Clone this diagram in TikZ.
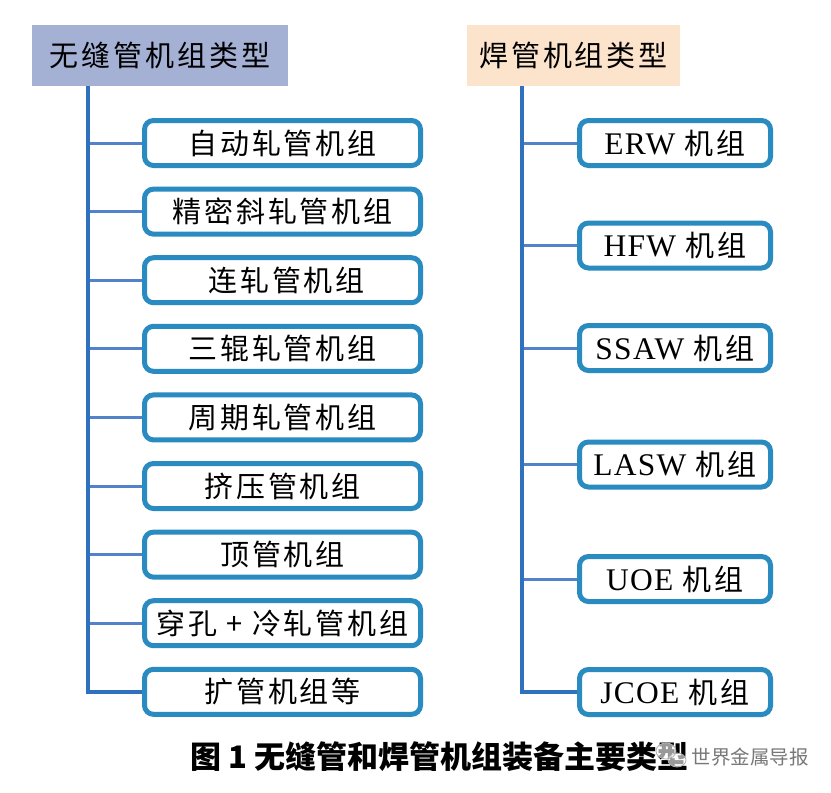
\documentclass[tikz,border=0pt]{standalone}
\usepackage{fontspec}
\setmainfont{Liberation Serif}
\newfontfamily\cjk[LetterSpace=10]{Noto Sans CJK SC}
\newfontfamily\capf{Noto Sans CJK SC}
\newfontfamily\latf[LetterSpace=4]{Liberation Serif}
\definecolor{hdrblue}{RGB}{164,177,213}
\definecolor{hdrpeach}{RGB}{252,228,204}
\definecolor{boxblue}{RGB}{42,139,192}
\definecolor{trunkblue}{RGB}{47,113,188}
\definecolor{branchblue}{RGB}{82,130,202}
\definecolor{wmgray}{RGB}{120,120,120}
\tikzset{
  hdr/.style={inner sep=0pt, minimum height=61pt, font=\cjk\fontsize{29}{32}\selectfont},
  itembox/.style={draw=boxblue, line width=5pt, rounded corners=9pt, fill=white,
    minimum height=45pt, inner sep=0pt, font=\cjk\fontsize{29}{32}\selectfont},
  leftbox/.style={itembox, minimum width=276pt},
  rightbox/.style={itembox, minimum width=191pt},
  trunk/.style={draw=trunkblue, line width=3.5pt},
  branch/.style={draw=branchblue, line width=3pt},
}
\newcommand{\lat}[1]{{\latf\fontsize{31.5}{33}\selectfont #1}}
\begin{document}
\begin{tikzpicture}[x=1pt,y=-1pt]
\useasboundingbox[fill=white] (0,0) rectangle (831,793);
% headers
\node[hdr, fill=hdrblue, minimum width=256pt] (lh) at (160,55.5) {无缝管机组类型};
\node[hdr, fill=hdrpeach, minimum width=213pt] (rh) at (573.5,55.5) {焊管机组类型};
\coordinate (ltop) at ([xshift=56pt]lh.south west);
\coordinate (rtop) at ([xshift=55pt]rh.south west);
% left boxes
\node[leftbox] (l1) at (282.5,143) {自动轧管机组};
\node[leftbox] (l2) at (282.5,211.6) {精密斜轧管机组};
\node[leftbox] (l3) at (282.5,280.2) {\hspace{8pt}连轧管机组};
\node[leftbox] (l4) at (282.5,348.8) {三辊轧管机组};
\node[leftbox] (l5) at (282.5,417.4) {周期轧管机组};
\node[leftbox] (l6) at (282.5,486) {挤压管机组};
\node[leftbox] (l7) at (282.5,554.6) {顶管机组};
\node[leftbox] (l8) at (282.5,623.2) {穿孔 + 冷轧管机组};
\node[leftbox] (l9) at (282.5,691.8) {扩管机组等};
% right boxes
\node[rightbox] (r1) at (675,143) {\lat{ERW} 机组};
\node[rightbox] (r2) at (675,245.5) {\lat{HFW} 机组};
\node[rightbox] (r3) at (675,348) {\lat{SSAW} 机组};
\node[rightbox] (r4) at (675,464.5) {\lat{LASW} 机组};
\node[rightbox] (r5) at (675,579) {\lat{UOE} 机组};
\node[rightbox] (r6) at (675,692) {\lat{JCOE} 机组};
% connectors
\foreach \i in {1,...,8} {\draw[branch] (l\i.west) -- (l\i.west -| ltop);}
\draw[trunk] (ltop) |- (l9.west);
\foreach \i in {1,...,5} {\draw[branch] (r\i.west) -- (r\i.west -| rtop);}
\draw[trunk] (rtop) |- (r6.west);
% caption
\node[inner sep=0pt, anchor=west, font=\capf\bfseries\fontsize{31}{34}\selectfont] (cap) at (190,757) {图 1 无缝管和焊管机组装备主要类型};
% watermark
\fill[white, opacity=0.6] (666,751) ellipse (10pt and 8pt);
\fill[white, opacity=0.6] (677,760) ellipse (9pt and 7pt);
\draw[wmgray!60, line width=0.8pt] (666,751) ellipse (10pt and 8pt);
\draw[wmgray!60, line width=0.8pt] (677,760) ellipse (9pt and 7pt);
\node[inner sep=0pt, anchor=east, text=wmgray, font=\capf\fontsize{19.5}{22}\selectfont] (wm) at (809,757) {世界金属导报};
\end{tikzpicture}
\end{document}
